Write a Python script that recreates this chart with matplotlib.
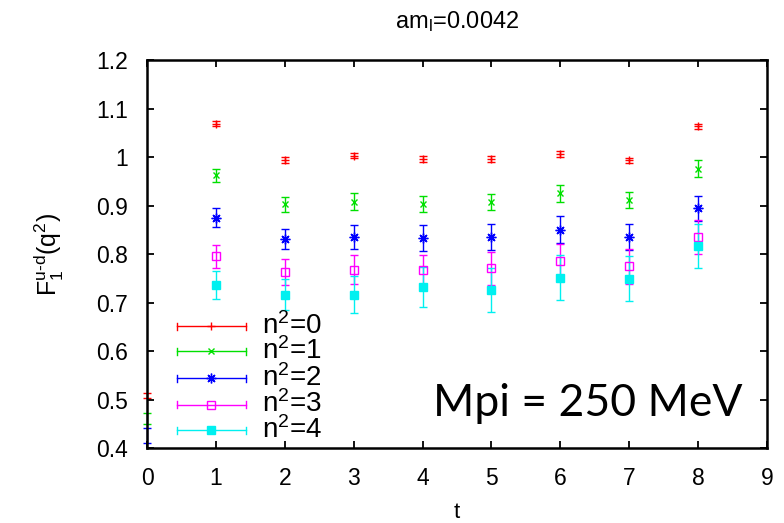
import numpy as np
import matplotlib
matplotlib.use("Agg")
import matplotlib.pyplot as plt

plt.rcParams['font.family'] = ['Liberation Sans', 'DejaVu Sans']
plt.rcParams['mathtext.fontset'] = 'custom'
plt.rcParams['mathtext.rm'] = 'Liberation Sans'
plt.rcParams['mathtext.it'] = 'Liberation Sans:italic'
plt.rcParams['mathtext.default'] = 'regular'

# data
t_vals = [1, 2, 3, 4, 5, 6, 7, 8]
n0_val = [1.069, 0.994, 1.003, 0.996, 0.996, 1.006, 0.993, 1.063]
n0_err = [0.006, 0.006, 0.006, 0.006, 0.006, 0.0055, 0.0055, 0.0055]
n1_val = [0.962, 0.903, 0.908, 0.904, 0.907, 0.925, 0.911, 0.976]
n1_err = [0.014, 0.0155, 0.017, 0.0165, 0.017, 0.018, 0.017, 0.017]
n2_val = [0.875, 0.831, 0.835, 0.833, 0.835, 0.850, 0.835, 0.894]
n2_err = [0.019, 0.021, 0.024, 0.026, 0.027, 0.028, 0.026, 0.026]
n3_val = [0.795, 0.763, 0.768, 0.768, 0.771, 0.786, 0.775, 0.835]
n3_err = [0.024, 0.026, 0.030, 0.031, 0.034, 0.035, 0.036, 0.035]
n4_val = [0.736, 0.716, 0.716, 0.732, 0.726, 0.751, 0.749, 0.817]
n4_err = [0.029, 0.032, 0.038, 0.042, 0.045, 0.046, 0.046, 0.045]

# t = 0 values (only those within the plotted range)
t0 = [0]
n0_t0_val, n0_t0_err = [0.508], [0.005]
n1_t0_val, n1_t0_err = [0.461], [0.011]
n2_t0_val, n2_t0_err = [0.426], [0.015]

labels = ['n$^2$=0', 'n$^2$=1', 'n$^2$=2', 'n$^2$=3', 'n$^2$=4']
colors = ['#ff0000', '#00e000', '#0000ff', '#ff00ff', '#00f0f0']

series = [
    (n0_val, n0_err, dict(marker='+', ms=6, mew=1.0)),
    (n1_val, n1_err, dict(marker='x', ms=5, mew=1.0)),
    (n2_val, n2_err, dict(marker=(8, 2, 0), ms=7, mew=1.0)),
    (n3_val, n3_err, dict(marker='s', ms=6, mew=1.0, mfc='none')),
    (n4_val, n4_err, dict(marker='s', ms=6, mew=1.0)),
]

fig = plt.figure(figsize=(7.84, 5.23), dpi=100)
ax = fig.add_axes([0.1875, 0.1434, 0.7908, 0.7418])

for (v, e, mk), c in zip(series, colors):
    ax.errorbar(t_vals, v, yerr=e, color=c, ls='none', elinewidth=1.0,
                capsize=2.7, capthick=1.0, **mk)

for v, e, c in [(n0_t0_val, n0_t0_err, colors[0]),
                (n1_t0_val, n1_t0_err, colors[1]),
                (n2_t0_val, n2_t0_err, colors[2])]:
    _, caps, bars = ax.errorbar(t0, v, yerr=e, color=c, ls='none', elinewidth=1.0,
                                capsize=2.7, capthick=1.0, zorder=1)
    for a in list(caps) + list(bars):
        a.set_clip_on(False)

ax.set_xlim(0, 9)
ax.set_ylim(0.4, 1.2)
ax.set_xticks(range(0, 10))
ax.set_yticks(np.arange(0.4, 1.21, 0.1))
ax.yaxis.set_major_formatter(matplotlib.ticker.FormatStrFormatter('%g'))
ax.tick_params(direction='in', length=5, width=1.3, labelsize=16.5,
               top=True, right=True)
ax.tick_params(axis='y', pad=13.5)
ax.tick_params(axis='x', pad=14)
for s in ax.spines.values():
    s.set_linewidth(1.8)
    s.set_zorder(5)

ax.set_xlabel('t', fontsize=16, labelpad=8)
ax.set_ylabel(r'F$_1^{u\text{-}d}$(q$^2$)', fontsize=18, labelpad=22)
ax.set_title('am$_l$=0.0042', fontsize=17, pad=23)

# legend drawn in gnuplot style
lx0, lx1, lxm, ltx = 0.048, 0.160, 0.103, 0.185
rows = [0.314, 0.249, 0.180, 0.112, 0.046]
tr = ax.transAxes
for (v, e, mk), c, lab, yy in zip(series, colors, labels, rows):
    ax.plot([lx0, lx1], [yy, yy], color=c, lw=1.0, transform=tr)
    ax.plot([lx0, lx0], [yy - 0.009, yy + 0.009], color=c, lw=1.0, transform=tr)
    ax.plot([lx1, lx1], [yy - 0.009, yy + 0.009], color=c, lw=1.0, transform=tr)
    ax.plot([lxm], [yy], color=c, ls='none', transform=tr, **mk)
    ax.text(ltx, yy, lab, transform=tr, fontsize=20, va='center', ha='left')

ax.text(0.462, 0.083, 'Mpi = 250 MeV', transform=tr, fontsize=32,
        family=['Lato', 'DejaVu Sans'], va='baseline', ha='left')

fig.savefig('out.png', dpi=100)
